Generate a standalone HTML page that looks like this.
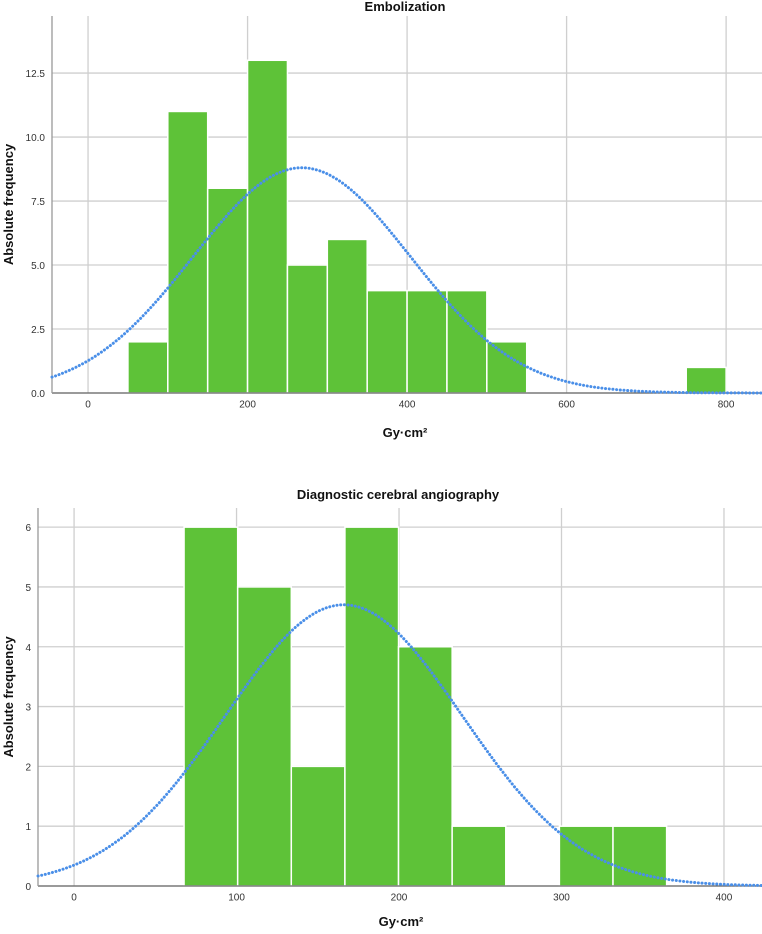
<!DOCTYPE html>
<html><head><meta charset="utf-8"><style>
html,body{margin:0;padding:0;background:#fff;}
svg{display:block;font-family:"Liberation Sans",Arial,sans-serif;}
</style></head><body>
<svg id="s" width="762" height="934" viewBox="0 0 762 934"></svg>
<script>
// Chart 1: Embolization
const embBinStarts = [50,100,150,200,250,300,350,400,450,500,550,600,650,700,750];
const embCounts    = [2,11,8,13,5,6,4,4,4,2,0,0,0,0,1];
const embBinWidth = 50;
const embXTicks = [0,200,400,600,800];
const embYTicks = [0,2.5,5,7.5,10,12.5];
const embYTickLabels = ["0.0","2.5","5.0","7.5","10.0","12.5"];
const embMean = 268, embSd = 136, embN = 60;

// Chart 2: Diagnostic cerebral angiography
const angBinStarts = [67.7,100.7,133.7,166.7,199.7,232.7,265.7,298.7,331.7];
const angCounts    = [6,5,2,6,4,1,0,1,1];
const angBinWidth = 33;
const angXTicks = [0,100,200,300,400];
const angYTicks = [0,1,2,3,4,5,6];
const angYTickLabels = ["0","1","2","3","4","5","6"];
const angMean = 166, angSd = 72.8, angN = 26;

const NS="http://www.w3.org/2000/svg";
const svg=document.getElementById('s');
function mk(tag,attrs,parent){const e=document.createElementNS(NS,tag);for(const k in attrs)e.setAttribute(k,attrs[k]);(parent||svg).appendChild(e);return e;}

function drawChart(cfg){
  const g=mk('g',{});
  
  
  const sx=v=>cfg.px0+(v-cfg.xmin)/(cfg.xmax-cfg.xmin)*(cfg.px1-cfg.px0);
  const sy=v=>cfg.py0-(v-cfg.ymin)/(cfg.ymax-cfg.ymin)*(cfg.py0-cfg.py1);
  cfg.yTicks.forEach((t,i)=>{
    const l=mk('line',{x1:cfg.px0,x2:cfg.px1,y1:sy(t),y2:sy(t),stroke:'#cfcfcf','stroke-width':1.3},g);
    
    
    const tx=mk('text',{x:cfg.px0-7,y:sy(t)+4,'text-anchor':'end','font-size':10,fill:'#333'},g);
    tx.textContent=cfg.yLabels[i];
    
    
  });
  cfg.xTicks.forEach(t=>{
    const l=mk('line',{x1:sx(t),x2:sx(t),y1:cfg.py1,y2:cfg.py0,stroke:'#cfcfcf','stroke-width':1.3},g);
    
    
    const tx=mk('text',{x:sx(t),y:cfg.py0+14.5,'text-anchor':'middle','font-size':10,fill:'#333'},g);
    tx.textContent=String(t);
    
    
  });
  cfg.starts.forEach((s,i)=>{
    if(!cfg.counts[i])return;
    const x0=sx(s),x1=sx(s+cfg.bw);
    const r=mk('rect',{x:x0,y:sy(cfg.counts[i]),width:x1-x0,height:sy(0)-sy(cfg.counts[i]),fill:'#5ec238',stroke:'#fff','stroke-width':1.5},g);
    
    
  });
  const ax=mk('line',{x1:cfg.px0,x2:cfg.px1,y1:cfg.py0,y2:cfg.py0,stroke:'#666','stroke-width':1.3},g);
  
  
  const ay=mk('line',{x1:cfg.px0,x2:cfg.px0,y1:cfg.py1,y2:cfg.py0,stroke:'#999','stroke-width':1.3},g);
  
  
  const peak=cfg.n*cfg.bw/(cfg.sd*Math.sqrt(2*Math.PI));
  let d='';
  for(let i=0;i<=300;i++){
    const v=cfg.xmin+(cfg.xmax-cfg.xmin)*i/300;
    const y=peak*Math.exp(-((v-cfg.mean)**2)/(2*cfg.sd*cfg.sd));
    d+=(i?'L':'M')+sx(v).toFixed(1)+','+sy(y).toFixed(1);
  }
  const c=mk('path',{d:d,fill:'none',stroke:'#4a8fe8','stroke-width':3,'stroke-dasharray':'0.1 3.6','stroke-linecap':'round'},g);
  
  
  const t=mk('text',{x:cfg.titleX,y:cfg.titleY,'text-anchor':'middle','font-size':13,'font-weight':'bold',fill:'#111'},g);
  t.textContent=cfg.title;
  
  
  const xl=mk('text',{x:cfg.xLabelX,y:cfg.xLabelY,'text-anchor':'middle','font-size':13,'font-weight':'bold',fill:'#111'},g);
  xl.textContent='Gy·cm²';
  
  
  const yl=mk('text',{x:0,y:0,'text-anchor':'middle','font-size':13,'font-weight':'bold',fill:'#111',transform:`translate(13,${(cfg.py0+cfg.py1)/2}) rotate(-90)`},g);
  yl.textContent='Absolute frequency';
  
  
}

drawChart({name:'embolization-chart',title:'Embolization',titleX:405,titleY:11,xLabelX:405,xLabelY:437,
  px0:52,px1:762,py0:393,py1:16,xmin:-45.2,xmax:845,ymin:0,ymax:14.73,
  xTicks:embXTicks,yTicks:embYTicks,yLabels:embYTickLabels,starts:embBinStarts,counts:embCounts,bw:embBinWidth,
  mean:embMean,sd:embSd,n:embN});
drawChart({name:'angiography-chart',title:'Diagnostic cerebral angiography',titleX:398,titleY:499,xLabelX:401,xLabelY:926,
  px0:38,px1:762,py0:886,py1:508,xmin:-22.2,xmax:423.4,ymin:0,ymax:6.32,
  xTicks:angXTicks,yTicks:angYTicks,yLabels:angYTickLabels,starts:angBinStarts,counts:angCounts,bw:angBinWidth,
  mean:angMean,sd:angSd,n:angN});
</script>
</body></html>
